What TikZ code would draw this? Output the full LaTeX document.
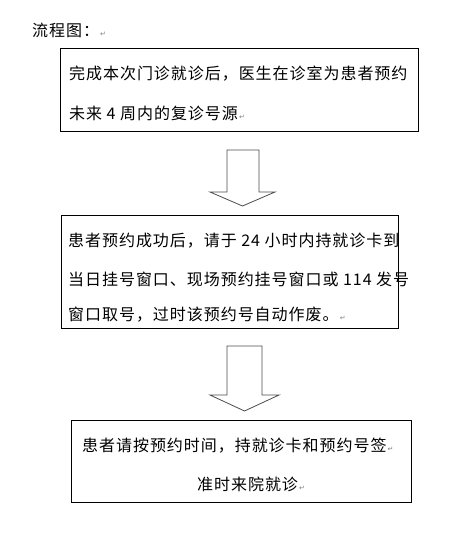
\documentclass[tikz,border=0pt]{standalone}
\usepackage{fontspec}
\newfontfamily\cjk[LetterSpace=6]{Noto Sans CJK SC}
\newfontfamily\symfont{DejaVu Sans}
\newcommand\retmark{{\symfont\fontsize{7}{7}\selectfont\color{gray}\,↵}}
\begin{document}
\begin{tikzpicture}[x=1pt,y=-1pt,
  txt/.style={anchor=base west, inner sep=0pt, font=\cjk\fontsize{16}{16}\selectfont},
  box/.style={draw=black, line width=0.8pt, anchor=north west, inner sep=0pt},
  blockarrow/.style={draw=gray!60!black, line width=0.8pt, fill=white, line join=miter}]
\useasboundingbox (0,0) rectangle (468,536);
% title
\node[txt] (title) at (32,36.5) {流程图：\retmark};
% box 1
\node[box, minimum width=358pt, minimum height=83pt] (b1) at (60,48) {};
\node[txt] (t1a) at (69,79.5) {完成本次门诊就诊后，医生在诊室为患者预约};
\node[txt] (t1b) at (69,119.5) {未来 4 周内的复诊号源\retmark};
% arrow 1
\draw[blockarrow] (227,150) -- (259,150) -- (259,192) -- (275,192) -- (242.5,206) -- (210,192) -- (227,192) -- cycle;
% box 2
\node[box, minimum width=337pt, minimum height=113pt] (b2) at (61,215) {};
\node[txt] (t2a) at (68,246.5) {患者预约成功后，请于 24 小时内持就诊卡到};
\node[txt] (t2b) at (68,285.5) {当日挂号窗口、现场预约挂号窗口或 114 发号};
\node[txt] (t2c) at (68,320.5) {窗口取号，过时该预约号自动作废。\retmark};
% arrow 2
\draw[blockarrow] (227,346) -- (262,346) -- (262,395) -- (279,395) -- (244.5,411) -- (210,395) -- (227,395) -- cycle;
% box 3
\node[box, minimum width=340pt, minimum height=82pt] (b3) at (71,420) {};
\node[txt] (t3a) at (82,451.5) {患者请按预约时间，持就诊卡和预约号签\retmark};
\node[txt] (t3b) at (197,490.5) {准时来院就诊\retmark};
\end{tikzpicture}
\end{document}
